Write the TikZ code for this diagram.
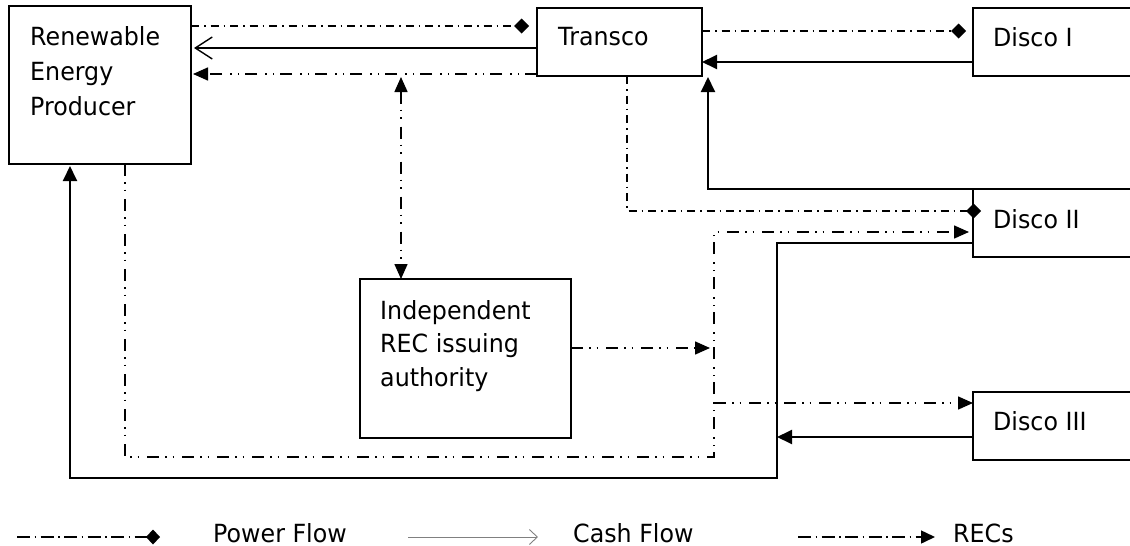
\documentclass[tikz,border=0pt]{standalone}
\usepackage{fontspec}
\setmainfont{DejaVu Sans}[FakeStretch=0.95]
\usetikzlibrary{arrows.meta}

\begin{document}
\begin{tikzpicture}[x=1pt,y=-1pt,
  box/.style={draw, line width=1.9pt, inner sep=0pt, outer sep=0pt, anchor=north west},
  lbl/.style={font=\fontsize{25}{35}\selectfont, inner sep=0pt, anchor=base west, align=left},
  pdash/.style={line width=1.5pt, dash pattern=on 8pt off 5pt on 1.5pt off 5pt},
  rdash/.style={line width=1.5pt, dash pattern=on 12pt off 6pt on 1.5pt off 6pt on 1.5pt off 8pt},
  powerflow/.style={pdash, -{Diamond[length=15pt,width=15pt]}},
  recflow/.style={rdash, -{Triangle[length=15pt,width=13pt]}},
  cashflow/.style={line width=1.9pt, -{Triangle[length=15pt,width=14pt]}},
  cashopen/.style={line width=1.9pt, -{Straight Barb[length=17pt,width=22pt,line width=1.4pt]}},
]
\clip (0,0) rectangle (1130,546);

% boxes
\node[box, minimum width=182pt, minimum height=158pt] (rep) at (9,6) {};
\node[box, minimum width=165pt, minimum height=68pt] (tr) at (537,8) {};
\node[box, minimum width=200pt, minimum height=68pt] (d1) at (973,8) {};
\node[box, minimum width=200pt, minimum height=68pt] (d2) at (973,189) {};
\node[box, minimum width=200pt, minimum height=68pt] (d3) at (973,392) {};
\node[box, minimum width=211pt, minimum height=159pt] (ira) at (360,279) {};

% labels (multi-line labels sit on the baseline of their last line)
\node[lbl] (repT) at (30,115) {Renewable\\Energy\\Producer};
\node[lbl] (trT) at (558,45) {Transco};
\node[lbl] (d1T) at (993,46) {Disco I};
\node[lbl] (d2T) at (993,228) {Disco II};
\node[lbl] (d3T) at (993,430) {Disco III};
\node[lbl, font=\fontsize{25}{33.5}\selectfont] (iraT) at (380,386) {Independent\\REC issuing\\authority};

% junction points
\coordinate (j1) at (401,74);
\coordinate (c2) at (708,189);
\coordinate (p2) at (627,211);
\coordinate (r1) at (125,457);
\coordinate (r2) at (714,457);
\coordinate (r3) at (714,232);
\coordinate (r4) at (714,403);
\coordinate (r5) at (714,348);
\coordinate (m1) at (777,243);
\coordinate (m2) at (777,478);
\coordinate (m3) at (70,478);
\coordinate (m4) at (777,437);

% Transco <-> producer
\draw[powerflow, shorten >=8pt] (rep.east |- 0,26) -- (tr.west |- 0,26);
\draw[cashopen, shorten >=3pt] (tr.west |- 0,48) -- (rep.east |- 0,48);
\draw[recflow, shorten >=2pt] (tr.west |- 0,74) -- (rep.east |- 0,74);
\draw[rdash, {Triangle[length=15pt,width=13pt]}-{Triangle[length=15pt,width=13pt]}, shorten <=3pt] (j1) -- (j1 |- ira.north);

% Transco <-> Discos
\draw[powerflow, shorten >=7pt] (tr.east |- 0,31) -- (d1.west |- 0,31);
\draw[cashflow] (d1.west |- 0,62) -- (tr.east |- 0,62);
\draw[cashflow, shorten >=1pt] (d2.north west) -- (c2) -- (c2 |- tr.south);
\draw[powerflow, shorten >=-8pt] (tr.south -| p2) -- (p2) -- (d2.west |- p2);

% RECs to the Discos
\draw[recflow, shorten >=4pt] (rep.south -| r1) -- (r1) -- (r2) -- (r3) -- (d2.west |- r3);
\draw[recflow] (r4) -- (d3.west |- r4);
\draw[recflow, shorten >=4pt] (ira.east |- r5) -- (r5);

% cash from Discos to producer
\draw[cashflow, shorten >=2pt] (d2.west |- m1) -- (m1) -- (m2) -- (m3) -- (rep.south -| m3);
\draw[cashflow] (d3.west |- m4) -- (m4);

% legend
\coordinate (lp1) at (17,537);
\coordinate (lp2) at (160,537);
\coordinate (lc1) at (408,537);
\coordinate (lc2) at (538,537);
\coordinate (lr1) at (798,537);
\coordinate (lr2) at (935,537);
\draw[line width=1.5pt, dash pattern=on 13pt off 4.5pt on 1.5pt off 4.5pt, -{Diamond[length=14pt,width=15pt]}] (lp1) -- (lp2);
\node[lbl] (lpT) at (213,542) {Power Flow};
\draw[gray, line width=0.9pt, -{Straight Barb[length=8pt,width=15pt,line width=0.9pt]}] (lc1) -- (lc2);
\node[lbl] (lcT) at (573,542) {Cash Flow};
\draw[line width=1.5pt, dash pattern=on 13pt off 4.5pt on 1.5pt off 4.5pt, -{Triangle[length=14pt,width=13pt]}] (lr1) -- (lr2);
\node[lbl] (lrT) at (953,542) {RECs};
\end{tikzpicture}
\end{document}
